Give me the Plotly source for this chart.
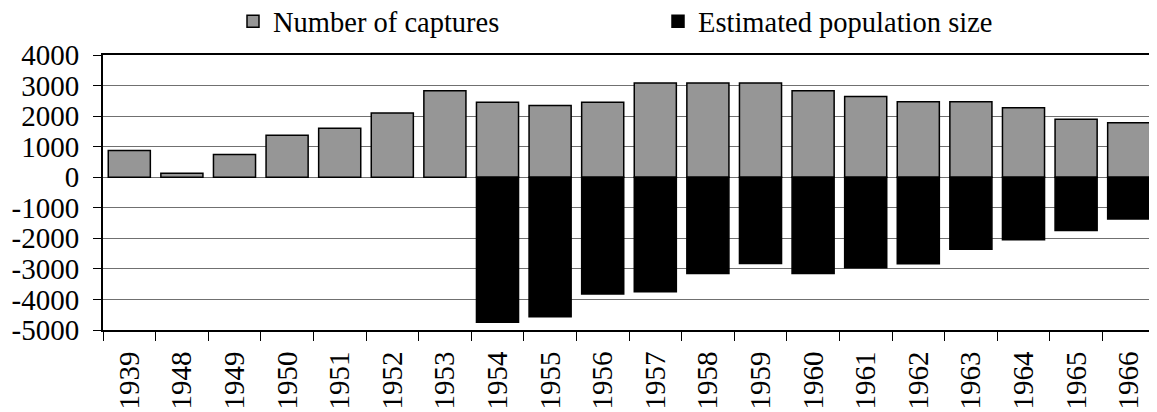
import plotly.graph_objects as go

years = ["1939", "1948", "1949", "1950", "1951", "1952", "1953", "1954", "1955", "1956",
         "1957", "1958", "1959", "1960", "1961", "1962", "1963", "1964", "1965", "1966"]
captures = [875, 130, 745, 1370, 1605, 2100, 2830, 2455, 2350, 2455,
            3080, 3080, 3080, 2830, 2645, 2470, 2470, 2275, 1900, 1785]
population = [None, None, None, None, None, None, None, -4750, -4565, -3820,
              -3750, -3150, -2820, -3150, -2960, -2830, -2360, -2045, -1740, -1365]
y_ticks = list(range(-5000, 4001, 1000))

FONT = "Times New Roman, Liberation Serif, DejaVu Serif, serif"

fig = go.Figure()
fig.add_trace(go.Bar(
    x=years, y=captures, name="Number of captures",
    marker=dict(color="#969696", line=dict(color="black", width=1.5)),
))
fig.add_trace(go.Bar(
    x=years, y=population, name="Estimated population size",
    marker=dict(color="black", line=dict(color="black", width=1.5)),
))

W, H = 1149, 404
ML, MR, MT, MB = 95, 2, 47, 82
fig.update_layout(
    width=W, height=H,
    margin=dict(l=ML, r=MR, t=MT, b=MB, autoexpand=False),
    barmode="relative",
    bargap=0.2,
    plot_bgcolor="white",
    paper_bgcolor="white",
    font=dict(family=FONT, size=29, color="black"),
    showlegend=True,
    legend=dict(
        orientation="h",
        x=(233 - 8 - ML) / (W - ML - MR), xref="paper", xanchor="left",
        y=1.214, yref="paper", yanchor="top",
        entrywidth=380, entrywidthmode="pixels",
        font=dict(family=FONT, size=28.5, color="black"),
        itemclick=False,
        bgcolor="rgba(0,0,0,0)",
    ),
)

fig.update_xaxes(
    type="category",
    automargin=False,
    showline=True, linecolor="black", linewidth=2, mirror=True,
    ticks="outside", ticklen=9, tickcolor="black", tickwidth=1,
    tickson="boundaries",
    tickangle=-90,
    ticklabelstandoff=8,
    showgrid=False,
    tickfont=dict(family=FONT, size=29, color="black"),
)
fig.update_yaxes(
    automargin=False,
    range=[-5000, 4000],
    tickvals=y_ticks,
    ticktext=[str(v) for v in y_ticks],
    showline=True, linecolor="black", linewidth=2,
    ticks="outside", ticklen=8, tickcolor="black", tickwidth=1,
    ticklabelstandoff=8,
    showgrid=True, gridcolor="#707070", gridwidth=1,
    zeroline=True, zerolinecolor="#707070", zerolinewidth=1,
    tickfont=dict(family=FONT, size=29, color="black"),
)

fig.write_html("out.html")
